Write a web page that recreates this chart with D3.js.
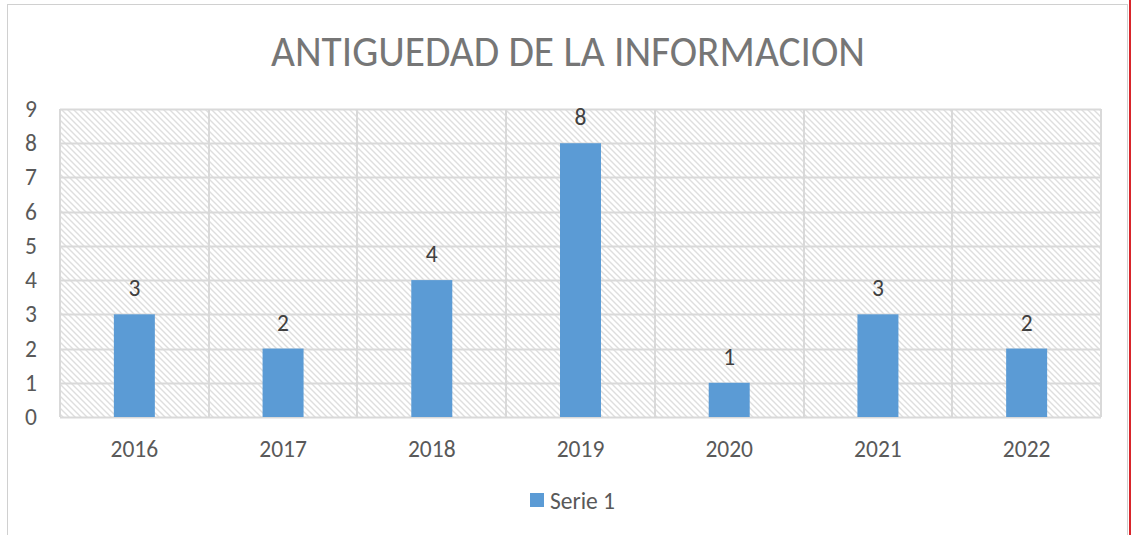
<!DOCTYPE html>
<html><head><meta charset="utf-8">
<script src="https://cdn.jsdelivr.net/npm/d3@7"></script>
<style>body{margin:0;background:#fff;} svg{display:block;}</style>
</head><body>
<svg id="chart" width="1132" height="535"></svg>
<script>
const categories = ["2016","2017","2018","2019","2020","2021","2022"];
const values = [3,2,4,8,1,3,2];
const yTicks = [0,1,2,3,4,5,6,7,8,9];
const seriesName = "Serie 1";
const title = "ANTIGUEDAD DE LA INFORMACION";

const svg = d3.select("#chart");
const font = "Calibri, Carlito, 'Open Sans', 'Noto Sans', sans-serif";
const m = {left:60, right:1101, top:109, bottom:417};

// frame
svg.append("line").attr("x1",7.5).attr("x2",7.5).attr("y1",4).attr("y2",535).attr("stroke","#d0d0d0");
svg.append("line").attr("x1",7).attr("x2",1128).attr("y1",4.5).attr("y2",4.5).attr("stroke","#d0d0d0");
svg.append("line").attr("x1",1127.5).attr("x2",1127.5).attr("y1",4).attr("y2",535).attr("stroke","#d0d0d0");
svg.append("line").attr("x1",1130).attr("x2",1130).attr("y1",0).attr("y2",535).attr("stroke","#d9252b").attr("stroke-width",2);

const defs = svg.append("defs");
const s = 6;
const pat = defs.append("pattern").attr("id","hatch").attr("patternUnits","userSpaceOnUse")
  .attr("width",s).attr("height",s);
pat.append("rect").attr("width",s).attr("height",s).attr("fill","#fff");
pat.append("path").attr("d",`M-1,-1 L${s+1},${s+1} M-1,${s-1} L1,${s+1} M${s-1},-1 L${s+1},1`)
  .attr("stroke","#dedede").attr("stroke-width",1.4);

const x = d3.scaleBand().domain(categories).range([m.left,m.right]).paddingInner(0).paddingOuter(0);
const y = d3.scaleLinear().domain([0,9]).range([m.bottom,m.top]);

svg.append("rect").attr("x",m.left).attr("y",m.top).attr("width",m.right-m.left).attr("height",m.bottom-m.top)
  .attr("fill","url(#hatch)");

// horizontal gridlines
svg.append("g").selectAll("line").data(yTicks).join("line")
  .attr("x1",m.left).attr("x2",m.right)
  .attr("y1",d=>Math.round(y(d))+0.5).attr("y2",d=>Math.round(y(d))+0.5)
  .attr("stroke","#d9d9d9").attr("stroke-width",2);
// vertical gridlines
const vx = categories.map(c=>x(c)).concat([m.right]);
svg.append("g").selectAll("line").data(vx).join("line")
  .attr("x1",d=>Math.round(d)).attr("x2",d=>Math.round(d))
  .attr("y1",m.top).attr("y2",m.bottom)
  .attr("stroke","#d9d9d9").attr("stroke-width",2);

// bars
const bw = 41;
svg.append("g").selectAll("rect").data(values).join("rect")
  .attr("x",(d,i)=>x(categories[i])+x.bandwidth()/2-bw/2)
  .attr("y",d=>y(d)).attr("width",bw).attr("height",d=>y(0)-y(d))
  .attr("fill","#5b9bd5");

// data labels
svg.append("g").selectAll("text").data(values).join("text")
  .attr("x",(d,i)=>x(categories[i])+x.bandwidth()/2)
  .attr("y",d=>y(d)-26)
  .attr("text-anchor","middle").attr("dominant-baseline","central")
  .attr("font-family",font).attr("font-size",23.5).attr("fill","#404040")
  .text(d=>d);

// y axis labels
const yAxis = d3.axisLeft(y).tickValues(yTicks).tickSize(0).tickPadding(0);
const gy = svg.append("g").attr("transform","translate(37,0)").call(yAxis);
gy.select(".domain").remove();
gy.selectAll("text").attr("font-family",font).attr("font-size",23.5).attr("fill","#595959")
  .attr("dy","0.32em");

// x axis labels
const xAxis = d3.axisBottom(x).tickSize(0).tickPadding(0);
const gx = svg.append("g").attr("transform","translate(0,440)").call(xAxis);
gx.select(".domain").remove();
gx.selectAll("text").attr("font-family",font).attr("font-size",23.5).attr("fill","#595959").attr("dy","0.71em");

// title
svg.append("text").attr("x",568).attr("y",66).attr("text-anchor","middle")
  .attr("font-family",font).attr("font-size",44).attr("fill","#767676")
  .attr("textLength",594).attr("lengthAdjust","spacingAndGlyphs")
  .text(title);

// legend
svg.append("rect").attr("x",530).attr("y",493).attr("width",14).attr("height",14).attr("fill","#5b9bd5");
svg.append("text").attr("x",550).attr("y",509).attr("font-family",font).attr("font-size",23.5).attr("fill","#595959")
  .text(seriesName);
</script>
</body></html>
